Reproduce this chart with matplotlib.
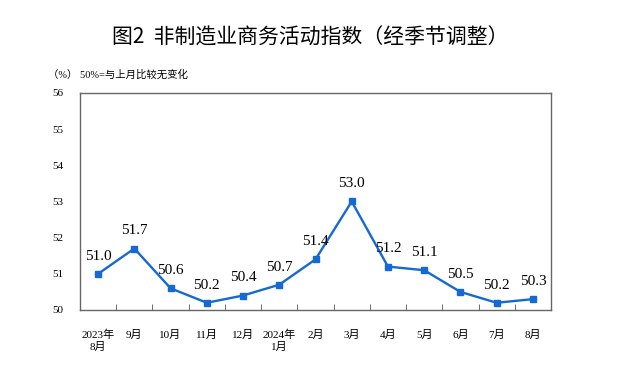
import matplotlib.pyplot as plt
from matplotlib.ticker import FixedLocator

plt.rcParams['font.family'] = ['Liberation Serif', 'Noto Sans CJK SC']

# 数据
meses = ['2023年\n8月', '9月', '10月', '11月', '12月', '2024年\n1月', '2月',
         '3月', '4月', '5月', '6月', '7月', '8月']
valores = [51.0, 51.7, 50.6, 50.2, 50.4, 50.7, 51.4, 53.0, 51.2, 51.1, 50.5, 50.2, 50.3]
y_ticks = [50, 51, 52, 53, 54, 55, 56]

fig = plt.figure(figsize=(6.18, 3.74), dpi=100)
ax = fig.add_axes([80 / 618, 1 - 310 / 374, 471 / 618, 217 / 374])

x = list(range(len(valores)))
cor = '#1469d2'
ax.plot(x, valores, color=cor, linewidth=1.7, marker='s', markersize=4.5, zorder=3)

for xi, v in zip(x, valores):
    ax.annotate(f'{v:.1f}', (xi, v), xytext=(0, 8), textcoords='offset points',
                ha='center', va='bottom', fontsize=11, family='Liberation Serif')

ax.set_xlim(-0.5, len(valores) - 0.5)
ax.set_ylim(50, 56)
ax.set_yticks(y_ticks)
ax.set_yticklabels([str(t) for t in y_ticks], fontsize=8)
ax.tick_params(axis='y', length=0, pad=12)

ax.set_xticks(x)
ax.set_xticklabels(meses, fontsize=8, family=['Liberation Serif', 'Noto Sans CJK SC'],
                   linespacing=1.3)
ax.tick_params(axis='x', which='major', length=0, pad=14)
ax.xaxis.set_minor_locator(FixedLocator([i + 0.5 for i in range(len(valores) - 1)]))
ax.tick_params(axis='x', which='minor', direction='in', length=4, color='#555555')

for s in ax.spines.values():
    s.set_color('#666666')
    s.set_linewidth(1.0)

fig.text(310 / 618, 1 - 38 / 374, '图2  非制造业商务活动指数（经季节调整）', ha='center', va='center',
         fontsize=15, family=['Noto Sans CJK SC'])
fig.text(48 / 618, 1 - 75 / 374, '（%） 50%=与上月比较无变化', ha='left', va='center',
         fontsize=7.5, family=['Liberation Serif', 'Noto Sans CJK SC'])

fig.savefig('out.png', dpi=100, facecolor='white')
